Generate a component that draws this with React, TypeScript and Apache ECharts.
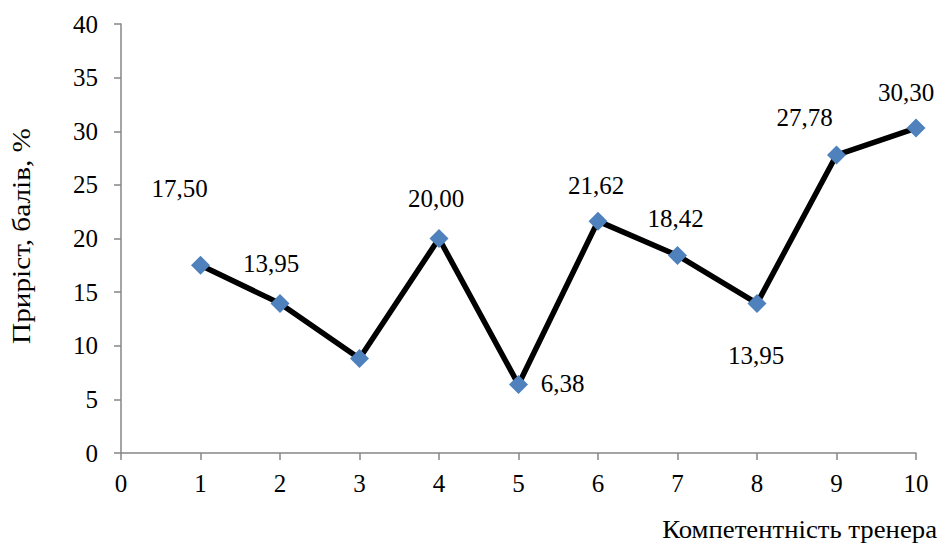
import React, { useEffect, useRef } from "react";
import * as echarts from "echarts";

const xValues = [1, 2, 3, 4, 5, 6, 7, 8, 9, 10];
const yValues = [17.5, 13.95, 8.82, 20.0, 6.38, 21.62, 18.42, 13.95, 27.78, 30.3];
const showLabel = [true, true, false, true, true, true, true, true, true, true];
const labelOffsets: [number, number][] = [
  [-21, -77], [-9, -40], [0, -38], [-3, -40], [44, -1],
  [-2, -36], [-2, -37], [-1, 52], [-32, -38], [-10, -36],
];
const xAxisTitle = "Компетентність тренера";
const yAxisTitle = "Приріст, балів, %";

const FONT = "Liberation Serif";
const FS = 25;

export default function App() {
  const ref = useRef<HTMLDivElement>(null);
  useEffect(() => {
    if (!ref.current) return;
    const chart = echarts.init(ref.current, undefined, { renderer: "svg" });
    const axisColor = "#868686";
    chart.setOption({
      animation: false,
      backgroundColor: "#ffffff",
      textStyle: { fontFamily: FONT },
      grid: { left: 121, right: 25, top: 24, bottom: 91, containLabel: false },
      xAxis: {
        type: "value",
        min: 0,
        max: 10,
        interval: 1,
        splitLine: { show: false },
        axisLine: { show: true, lineStyle: { color: axisColor, width: 1.5 } },
        axisTick: { show: true, length: 7, lineStyle: { color: axisColor, width: 1.5 } },
        axisLabel: { color: "#000", fontFamily: FONT, fontSize: FS, margin: 18 },
      },
      yAxis: {
        type: "value",
        min: 0,
        max: 40,
        interval: 5,
        splitLine: { show: false },
        axisLine: { show: true, lineStyle: { color: axisColor, width: 1.5 } },
        axisTick: { show: true, length: 7, lineStyle: { color: axisColor, width: 1.5 } },
        axisLabel: { color: "#000", fontFamily: FONT, fontSize: FS, margin: 23 },
      },
      graphic: [
        {
          type: "text",
          x: 937,
          y: 530,
          scaleX: 1.07,
          style: {
            text: xAxisTitle,
            fill: "#000",
            fontFamily: FONT,
            fontSize: FS,
            align: "right",
            verticalAlign: "middle",
          },
        },
        {
          type: "text",
          x: 22,
          y: 236,
          rotation: Math.PI / 2,
          scaleX: 1.17,
          style: {
            text: yAxisTitle,
            fill: "#000",
            fontFamily: FONT,
            fontSize: FS,
            align: "center",
            verticalAlign: "middle",
          },
        },
      ],
      series: [
        {
          type: "line",
          data: xValues.map((x, i) => ({
            value: [x, yValues[i]],
            label: {
              show: showLabel[i],
              position: "inside",
              offset: labelOffsets[i],
            },
          })),
          symbol: "diamond",
          symbolSize: 19,
          itemStyle: { color: "#4F81BD" },
          lineStyle: { color: "#000", width: 5.5 },
          label: {
            show: true,
            color: "#000",
            fontFamily: FONT,
            fontSize: FS,
            formatter: (p: any) => p.value[1].toFixed(2).replace(".", ","),
          },
          z: 3,
        },
      ],
    });
    return () => chart.dispose();
  }, []);
  return (
    <div
      ref={ref}
      style={{ position: "fixed", left: 0, top: 0, width: 941, height: 544 }}
    />
  );
}
